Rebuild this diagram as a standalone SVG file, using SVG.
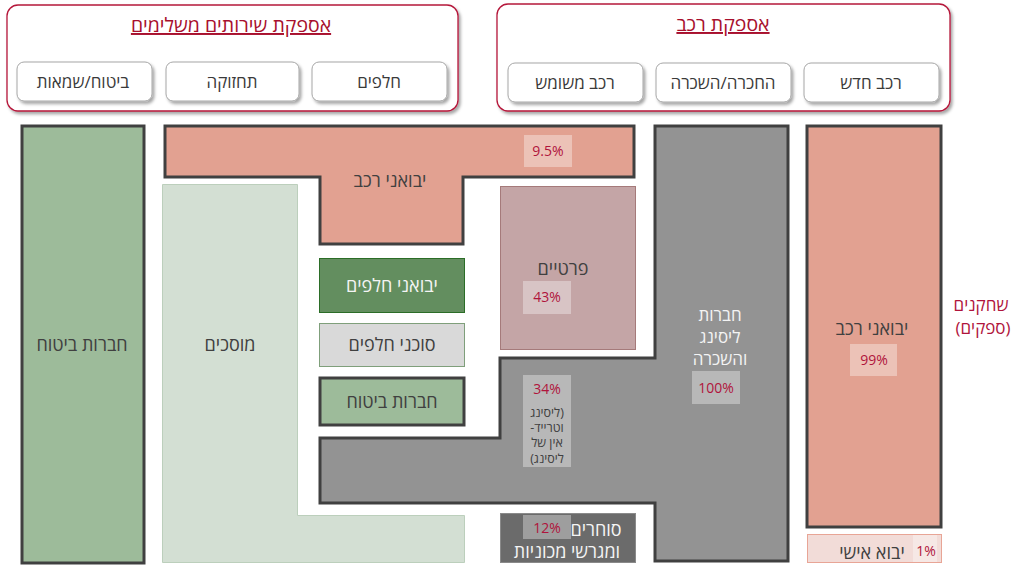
<svg xmlns="http://www.w3.org/2000/svg" width="1014" height="565" viewBox="0 0 1014 565">
  <defs>
    <filter id="shadow" x="-10%" y="-10%" width="120%" height="130%">
      <feDropShadow dx="2" dy="2.5" stdDeviation="1.5" flood-color="#000" flood-opacity="0.35"/>
    </filter>
    <style>
      text { font-family: "Open Sans", "Liberation Sans", "DejaVu Sans", sans-serif; text-anchor: middle; }
      .he { direction: rtl; unicode-bidi: embed; }
      .panel { fill: #fff; stroke: #b5173a; stroke-width: 1.3; }
      .btn { fill: #fff; stroke: #a6a6a6; stroke-width: 1; }
      .title { font-size: 19.5px; fill: #a8102e; text-decoration: underline; }
      .btxt { font-size: 17px; fill: #3a3a3a; }
      .lbl { font-size: 18px; fill: #404040; }
      .wlbl { font-size: 18px; fill: #f4f4f4; }
      .stack { font-size: 17px; }
      .pct { font-size: 14px; fill: #b0143c; }
      .note { font-size: 12.5px; fill: #404040; }
      .thick { stroke: #404040; stroke-width: 3; stroke-linejoin: miter; }
      .pink { fill: #e2a191; }
      .green { fill: #9dbb9a; }
      .gray { fill: #939393; }
      .tag { fill: #ffffff; fill-opacity: 0.35; }
      .red { font-size: 17px; fill: #b0143c; }
    </style>
  </defs>

  <!-- header: complementary services supply -->
  <g id="services-panel">
    <rect class="panel" x="7" y="5" width="451" height="106" rx="11" filter="url(#shadow)"/>
    <text class="title he" x="231" y="32">אספקת שירותים משלימים</text>
  </g>
  <g id="btn-parts">
    <rect class="btn" x="312" y="62" width="135" height="39" rx="7" filter="url(#shadow)"/>
    <text class="btxt he" x="379" y="88">חלפים</text>
  </g>
  <g id="btn-maintenance">
    <rect class="btn" x="166" y="62" width="133" height="39" rx="7" filter="url(#shadow)"/>
    <text class="btxt he" x="232" y="88">תחזוקה</text>
  </g>
  <g id="btn-insurance">
    <rect class="btn" x="17" y="62" width="135" height="39" rx="7" filter="url(#shadow)"/>
    <text class="btxt he" x="83" y="88">ביטוח/שמאות</text>
  </g>

  <!-- header: vehicle supply -->
  <g id="vehicle-panel">
    <rect class="panel" x="497" y="4" width="453" height="107" rx="11" filter="url(#shadow)"/>
    <text class="title he" x="723" y="31">אספקת רכב</text>
  </g>
  <g id="btn-new">
    <rect class="btn" x="804" y="63" width="135" height="39" rx="7" filter="url(#shadow)"/>
    <text class="btxt he" x="871" y="89">רכב חדש</text>
  </g>
  <g id="btn-lease">
    <rect class="btn" x="656" y="63" width="135" height="39" rx="7" filter="url(#shadow)"/>
    <text class="btxt he" x="723" y="89">החכרה/השכרה</text>
  </g>
  <g id="btn-used">
    <rect class="btn" x="508" y="63" width="135" height="39" rx="7" filter="url(#shadow)"/>
    <text class="btxt he" x="575" y="89">רכב משומש</text>
  </g>

  <!-- insurance companies column -->
  <g id="insurers-left">
    <rect class="green thick" x="22" y="126" width="122" height="437"/>
    <text class="lbl he" x="82" y="351">חברות ביטוח</text>
  </g>

  <!-- garages (L-shape) -->
  <g id="garages">
    <path d="M162.5,184.5 H297.5 V515.5 H464.5 V562.5 H162.5 Z" fill="#d3dfd3" stroke="#bccfbc" stroke-width="1"/>
    <text class="lbl he" x="230" y="351">מוסכים</text>
  </g>

  <!-- vehicle importers (T-shape) -->
  <g id="importers-t">
    <path class="pink thick" d="M165,126 H634 V177 H463 V244 H320 V177 H165 Z"/>
    <text class="lbl he" x="390" y="187">יבואני רכב</text>
    <rect class="tag" x="524" y="135" width="48" height="32"/>
    <text class="pct" x="548" y="156">9.5%</text>
  </g>

  <!-- parts importers -->
  <g id="parts-importers">
    <rect x="319.5" y="258.5" width="145" height="54" fill="#638e5f" stroke="#2b6d27" stroke-width="1"/>
    <text class="wlbl he" x="392" y="292">יבואני חלפים</text>
  </g>

  <!-- parts agents -->
  <g id="parts-agents">
    <rect x="319.5" y="323.5" width="145" height="43" fill="#d9d9d9" stroke="#7f9f7b" stroke-width="1"/>
    <text class="lbl he" x="392" y="351">סוכני חלפים</text>
  </g>

  <!-- insurance companies (middle) -->
  <g id="insurers-mid">
    <rect class="green thick" x="320" y="378" width="144" height="47"/>
    <text class="lbl he" x="392" y="408">חברות ביטוח</text>
  </g>

  <!-- private sellers -->
  <g id="private">
    <rect x="500.5" y="186.5" width="135" height="163" fill="#c4a5a6" stroke="#a57a7a" stroke-width="1"/>
    <text class="lbl he" x="563" y="275">פרטיים</text>
    <rect class="tag" x="523" y="281" width="48" height="33"/>
    <text class="pct" x="547" y="302">43%</text>
  </g>

  <!-- leasing and rental companies -->
  <g id="leasing">
    <path class="gray thick" d="M655,126 H788 V561 H655 V503 H320 V438 H500 V358 H655 Z"/>
    <text class="wlbl stack he" x="720" y="321">חברות</text>
    <text class="wlbl stack he" x="720" y="343">ליסינג</text>
    <text class="wlbl stack he" x="720" y="365">והשכרה</text>
    <rect class="tag" x="692" y="371" width="48" height="33"/>
    <text class="pct" x="716" y="393">100%</text>
    <rect class="tag" x="523" y="375" width="48" height="92"/>
    <text class="pct" x="547" y="394">34%</text>
    <text class="note he" x="547" y="417">(ליסינג</text>
    <text class="note he" x="547" y="432">וטרייד-</text>
    <text class="note he" x="547" y="447">אין של</text>
    <text class="note he" x="547" y="463">ליסינג)</text>
  </g>

  <!-- dealers and car lots -->
  <g id="dealers">
    <rect x="500.5" y="513.5" width="135" height="49" fill="#6b6b6b" stroke="#8a8a8a" stroke-width="1"/>
    <rect class="tag" x="523" y="515" width="48" height="24"/>
    <text class="wlbl he" x="596" y="536">סוחרים</text>
    <text class="pct" x="547" y="533">12%</text>
    <text class="wlbl he" x="567" y="558">ומגרשי מכוניות</text>
  </g>

  <!-- vehicle importers (right column) -->
  <g id="importers-right">
    <rect class="pink thick" x="807" y="126" width="134" height="401"/>
    <text class="lbl he" x="872" y="335">יבואני רכב</text>
    <rect class="tag" x="850" y="344" width="47" height="32"/>
    <text class="pct" x="874" y="365">99%</text>
  </g>

  <!-- personal import -->
  <g id="personal-import">
    <rect x="807.5" y="534.5" width="134" height="28" fill="#f2dcd8" stroke="#e8a596" stroke-width="1"/>
    <rect class="tag" x="913" y="535" width="24" height="27"/>
    <text class="lbl he" x="872" y="559">יבוא אישי</text>
    <text class="pct" x="926" y="556">1%</text>
  </g>

  <!-- side label -->
  <g id="players-label">
    <text class="red he" x="981" y="311">שחקנים</text>
    <text class="red he" x="983" y="334">(ספקים)</text>
  </g>

  <g id="connectors"></g>
</svg>
